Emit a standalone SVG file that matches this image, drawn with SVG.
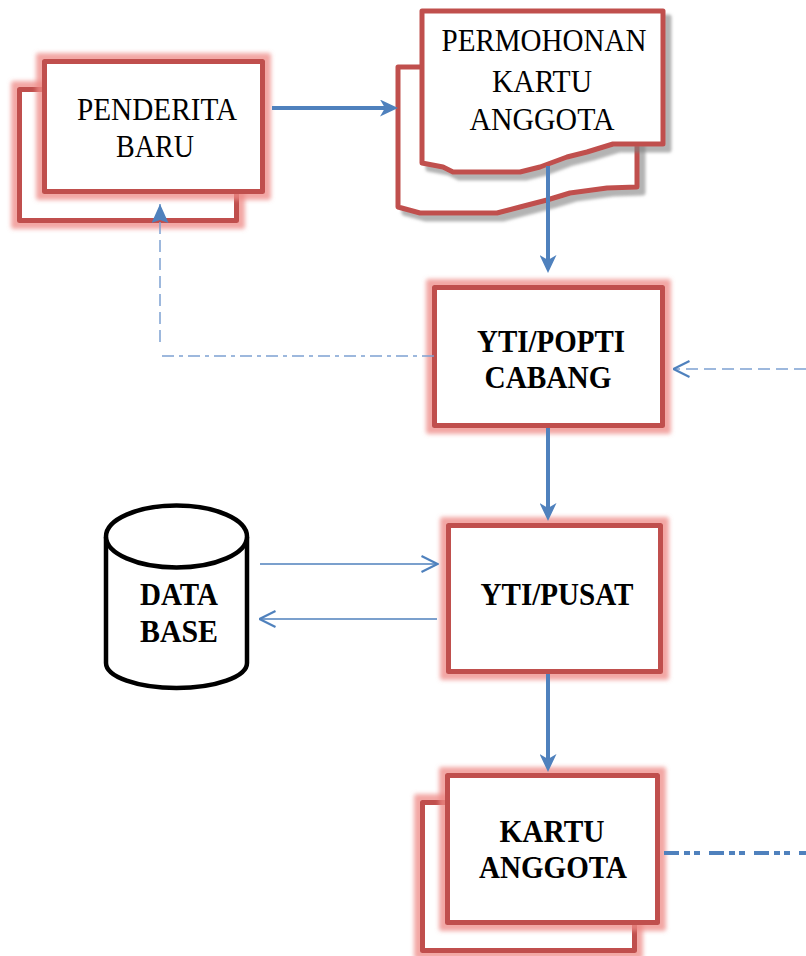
<svg xmlns="http://www.w3.org/2000/svg" width="806" height="956" viewBox="0 0 806 956">
<style>
.box{fill:#fff;stroke:#C0504D;stroke-width:5;stroke-linejoin:round}
.lbl{font-family:"Liberation Serif","Times New Roman",serif;font-size:31px;fill:#000;text-anchor:middle}
.b{font-weight:bold}
.thick{stroke:#4F81BD;stroke-width:4;fill:none}
.thin{stroke:#4F81BD;stroke-width:1.5;fill:none}
.dash{stroke:#7EA1D2;stroke-width:1.5;fill:none}
</style>
<defs>
<filter id="glow" x="-15%" y="-15%" width="130%" height="130%">
<feMorphology in="SourceAlpha" operator="dilate" radius="6" result="d"/>
<feGaussianBlur in="d" stdDeviation="2" result="bl"/>
<feFlood flood-color="#EE8A86" flood-opacity="0.75"/>
<feComposite in2="bl" operator="in" result="g"/>
<feMerge><feMergeNode in="g"/><feMergeNode in="SourceGraphic"/></feMerge>
</filter>
<filter id="shadow" x="-10%" y="-10%" width="130%" height="130%">
<feOffset in="SourceAlpha" dx="6" dy="6" result="o"/>
<feGaussianBlur in="o" stdDeviation="1.5" result="bl"/>
<feFlood flood-color="#808080" flood-opacity="0.6"/>
<feComposite in2="bl" operator="in" result="s"/>
<feMerge><feMergeNode in="s"/><feMergeNode in="SourceGraphic"/></feMerge>
</filter>
<marker id="ah" markerUnits="userSpaceOnUse" viewBox="0 0 18 17" refX="10" refY="8.5" markerWidth="18" markerHeight="17" orient="auto">
<path d="M0,0 L18,8.5 L0,17 L5,8.5 z" fill="#4F81BD"/>
</marker>
<marker id="chev" markerUnits="userSpaceOnUse" viewBox="-1 -1 18 18" refX="15.5" refY="8" markerWidth="18" markerHeight="18" orient="auto">
<path d="M0,0 L16,8 L0,16" fill="none" stroke="#4F81BD" stroke-width="2.2"/>
</marker>
<marker id="notch" markerUnits="userSpaceOnUse" viewBox="0 0 19 17" refX="19" refY="8.5" markerWidth="19" markerHeight="17" orient="auto">
<path d="M0,0 L19,8.5 L0,17 L3,8.5 z" fill="#4F81BD"/>
</marker>
</defs>

<g id="penderita-baru">
<rect class="box" x="19.5" y="89.5" width="217" height="131" filter="url(#glow)"/>
<rect class="box" x="44.5" y="61.5" width="218" height="130" filter="url(#glow)"/>
<text class="lbl" x="157" y="120" textLength="160" lengthAdjust="spacingAndGlyphs">PENDERITA</text>
<text class="lbl" x="155" y="157" textLength="78" lengthAdjust="spacingAndGlyphs">BARU</text>
</g>

<g id="permohonan-kartu-anggota">
<path class="box" filter="url(#shadow)" d="M398,67 L637,67 L637,187 L607,188 L570,193 L547,200 L520,207 L497,213 L420,213 L398,207 Z"/>
<path class="box" filter="url(#shadow)" d="M422,11 L663,11 L663,144 L613,144 L587,152 L567,157 L540,167 L520,172 L453,172 L443,167 L422,163 Z"/>
<text class="lbl" x="544" y="51" textLength="205" lengthAdjust="spacingAndGlyphs">PERMOHONAN</text>
<text class="lbl" x="542" y="92" textLength="100" lengthAdjust="spacingAndGlyphs">KARTU</text>
<text class="lbl" x="542" y="130" textLength="145" lengthAdjust="spacingAndGlyphs">ANGGOTA</text>
</g>

<g id="yti-popti-cabang">
<rect class="box" x="434.5" y="287.5" width="228" height="138" filter="url(#glow)"/>
<text class="lbl b" x="551" y="352" textLength="148" lengthAdjust="spacingAndGlyphs">YTI/POPTI</text>
<text class="lbl b" x="548" y="388" textLength="127" lengthAdjust="spacingAndGlyphs">CABANG</text>
</g>

<g id="yti-pusat">
<rect class="box" x="448.5" y="525.5" width="212" height="146" filter="url(#glow)"/>
<text class="lbl b" x="557" y="605" textLength="153" lengthAdjust="spacingAndGlyphs">YTI/PUSAT</text>
</g>

<g id="database">
<path d="M106,537 L106,663 A70.5,25 0 0 0 247,663 L247,537" fill="#fff" stroke="#000" stroke-width="4.5"/>
<ellipse cx="176.5" cy="536.5" rx="70.5" ry="31" fill="#fff" stroke="#000" stroke-width="4.5"/>
<text class="lbl b" x="179" y="605" textLength="78" lengthAdjust="spacingAndGlyphs">DATA</text>
<text class="lbl b" x="179" y="642" textLength="78" lengthAdjust="spacingAndGlyphs">BASE</text>
</g>

<g id="kartu-anggota">
<rect class="box" x="422.5" y="802.5" width="212" height="148" filter="url(#glow)"/>
<rect class="box" x="447.5" y="775.5" width="210" height="147" filter="url(#glow)"/>
<text class="lbl b" x="552" y="842" textLength="105" lengthAdjust="spacingAndGlyphs">KARTU</text>
<text class="lbl b" x="553" y="878" textLength="148" lengthAdjust="spacingAndGlyphs">ANGGOTA</text>
</g>

<g id="connectors">
<line class="thick" x1="272" y1="108" x2="390" y2="108" marker-end="url(#ah)"/>
<line class="thick" x1="548" y1="166" x2="548" y2="265" marker-end="url(#ah)"/>
<line class="thick" x1="548" y1="428" x2="548" y2="513" marker-end="url(#ah)"/>
<line class="thick" x1="548" y1="674" x2="548" y2="764" marker-end="url(#ah)"/>
<line class="dash" x1="806" y1="369" x2="674" y2="369" stroke-dasharray="12 6" marker-end="url(#chev)"/>
<polyline class="dash" points="434,356 160,356" stroke-dasharray="12 5 4 5"/>
<line class="dash" x1="160" y1="342" x2="160" y2="204" stroke-dasharray="12 6" marker-end="url(#notch)"/>
<line class="thin" x1="260" y1="564" x2="437" y2="564" marker-end="url(#chev)"/>
<line class="thin" x1="437" y1="619" x2="260" y2="619" marker-end="url(#chev)"/>
<line x1="664" y1="853" x2="806" y2="853" stroke="#4F81BD" stroke-width="4" stroke-dasharray="15 5 6 4 6 9"/>
</g>
</svg>
